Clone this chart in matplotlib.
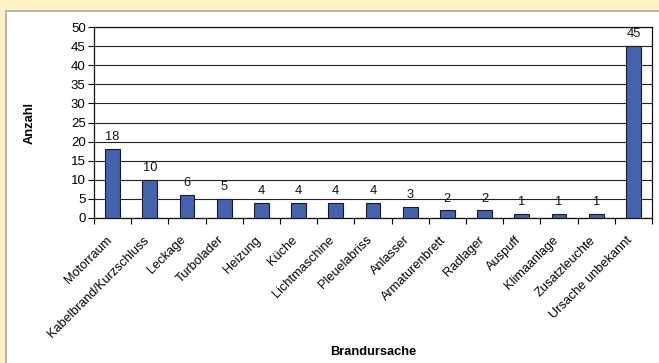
import matplotlib.pyplot as plt
from matplotlib.patches import Rectangle
from matplotlib.transforms import ScaledTranslation
import numpy as np

ursachen = ['Motorraum', 'Kabelbrand/Kurzschluss', 'Leckage', 'Turbolader', 'Heizung',
            'Küche', 'Lichtmaschine', 'Pleuelabriss', 'Anlasser', 'Armaturenbrett',
            'Radlager', 'Auspuff', 'Klimaanlage', 'Zusatzleuchte', 'Ursache unbekannt']
anzahl = [18, 10, 6, 5, 4, 4, 4, 4, 3, 2, 2, 1, 1, 1, 45]

plt.rcParams['font.family'] = ['Liberation Sans', 'DejaVu Sans']

fig = plt.figure(figsize=(6.59, 3.63), dpi=100)
fig.patch.set_facecolor('#FFF3C6')
# white panel with grey border
fig.patches.append(Rectangle((6 / 659, -0.01), 1.0, 1 - 11 / 363 + 0.01,
                             transform=fig.transFigure, facecolor='white',
                             edgecolor='#A8A8A8', linewidth=1.2, zorder=-5))

ax = fig.add_axes([94 / 659, 1 - 218 / 363, (652 - 94) / 659, (218 - 27) / 363])
x = np.arange(len(ursachen))
ax.bar(x, anzahl, width=0.4, color='#4363AD', edgecolor='#1A1A2E', linewidth=0.8, zorder=3)
for xi, v in zip(x, anzahl):
    ax.annotate(str(v), (xi, v), xytext=(0, 8.5), textcoords='offset points',
                ha='center', va='center', fontsize=9.3, color='#111111')

ax.set_ylim(0, 50)
ax.set_xlim(-0.5, len(ursachen) - 0.5)
ax.set_yticks(range(0, 51, 5))
ax.yaxis.grid(True, color='#222222', linewidth=0.8, zorder=0)
ax.tick_params(axis='y', labelsize=9.5, length=4, width=0.8, direction='out', pad=2)

# ticks sit between categories, labels under the bars
ax.set_xticks(np.arange(-0.5, len(ursachen), 1))
ax.set_xticklabels([])
ax.set_xticks(x, minor=True)
ax.set_xticklabels(ursachen, minor=True, rotation=45, ha='right', rotation_mode='anchor', fontsize=9.2)
ax.tick_params(axis='x', which='major', length=4, width=0.8, direction='out')
ax.tick_params(axis='x', which='minor', length=0, pad=10)
shift = ScaledTranslation(-0.07, -0.02, fig.dpi_scale_trans)
for lbl in ax.get_xticklabels(minor=True):
    lbl.set_transform(lbl.get_transform() + shift)

for s in ax.spines.values():
    s.set_linewidth(0.9)
    s.set_color('#111111')

ax.set_ylabel('Anzahl', fontsize=9.3, fontweight='bold')
ax.yaxis.set_label_coords(-0.104, 0.5)
fig.text(373 / 659, 1 - 352 / 363, 'Brandursache', ha='center', va='center', fontsize=9.3, fontweight='bold')

fig.savefig('out.png', dpi=100, facecolor=fig.get_facecolor())
